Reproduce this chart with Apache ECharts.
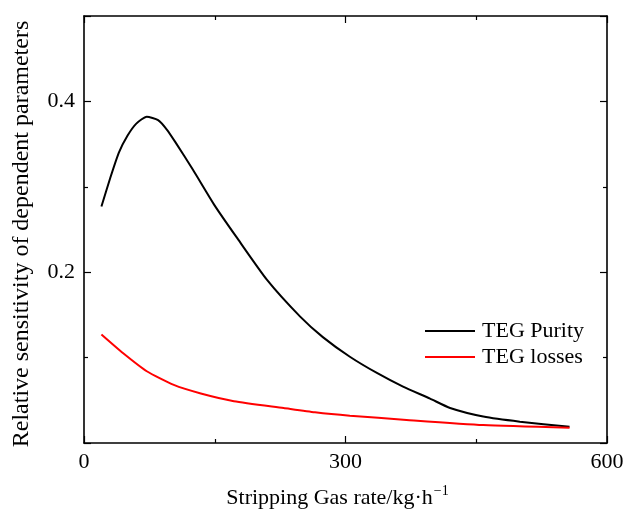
<!DOCTYPE html>
<html>
<head>
<meta charset="utf-8">
<script src="https://cdn.jsdelivr.net/npm/echarts@6/dist/echarts.min.js"></script>
<style>
  html, body { margin: 0; padding: 0; background: #fff; }
  #chart { width: 625px; height: 511px; }
</style>
</head>
<body>
<div id="chart"></div>
<script>
// values
const purityX = [20, 30, 40, 50, 60, 72, 85, 95, 105, 125, 150, 175, 210, 248, 274, 305, 336, 366, 397, 420, 458, 500, 557]
const purityY = [0.277, 0.310, 0.340, 0.360, 0.374, 0.382, 0.378, 0.367, 0.352, 0.320, 0.278, 0.241, 0.191, 0.148, 0.124, 0.101, 0.082, 0.066, 0.052, 0.041, 0.031, 0.025, 0.019]
const lossesX = [20, 45, 72, 103, 134, 172, 229, 265, 305, 370, 458, 557]
const lossesY = [0.127, 0.105, 0.084, 0.068, 0.058, 0.049, 0.041, 0.036, 0.032, 0.027, 0.021, 0.018]

const font = 'Liberation Serif'

function pairs(xs, ys) {
  return xs.map((x, i) => [x, ys[i]])
}

const chart = echarts.init(document.getElementById('chart'))

const axisCommon = {
  axisLine: { show: true, onZero: false, lineStyle: { color: '#000', width: 1.6 } },
  axisTick: { show: true, inside: true, length: 7, lineStyle: { color: '#000', width: 1.2 } },
  minorTick: { show: true, splitNumber: 2, length: 4, lineStyle: { color: '#000', width: 1.2 } },
  splitLine: { show: false }
}

chart.setOption({
  animation: false,
  grid: { left: 84, right: 18, top: 16, bottom: 68, outerBoundsMode: 'none' },
  legend: {
    orient: 'vertical',
    left: 420,
    top: 315,
    icon: 'rect',
    itemWidth: 50,
    itemHeight: 2,
    itemGap: 4,
    textStyle: { fontFamily: font, fontSize: 22, color: '#000', padding: [0, 0, 0, 2] },
    data: ['TEG Purity', 'TEG losses']
  },
  xAxis: [
    Object.assign({}, axisCommon, {
      type: 'value',
      min: 0,
      max: 600,
      interval: 300,
      name: '{a|Stripping Gas rate/kg·h}{b|−1}',
      nameLocation: 'middle',
      nameGap: 41,
      nameTextStyle: {
        padding: [0, 16, 0, 0],
        rich: {
          a: { fontFamily: font, fontSize: 22, color: '#000' },
          b: { fontFamily: font, fontSize: 14, color: '#000', padding: [0, 0, 14, 1] }
        }
      },
      axisLabel: { fontFamily: font, fontSize: 22, color: '#000', margin: 8 }
    }),
    Object.assign({}, axisCommon, {
      type: 'value',
      position: 'top',
      min: 0,
      max: 600,
      interval: 300,
      axisLabel: { show: false }
    })
  ],
  yAxis: [
    Object.assign({}, axisCommon, {
      type: 'value',
      min: 0,
      max: 0.5,
      interval: 0.2,
      name: 'Relative sensitivity of dependent parameters',
      nameLocation: 'middle',
      nameGap: 50,
      nameTextStyle: { fontFamily: font, fontSize: 24, color: '#000', padding: [0, 9, 0, 0] },
      axisLabel: {
        fontFamily: font, fontSize: 22, color: '#000', margin: 9,
        formatter: v => (v === 0 || v === 0.5 ? '' : v.toFixed(1))
      }
    }),
    Object.assign({}, axisCommon, {
      type: 'value',
      position: 'right',
      min: 0,
      max: 0.5,
      interval: 0.2,
      axisLabel: { show: false }
    })
  ],
  series: [
    {
      name: 'TEG Purity',
      type: 'line',
      smooth: 0.2,
      symbol: 'none',
      lineStyle: { color: '#000', width: 2 },
      itemStyle: { color: '#000' },
      data: pairs(purityX, purityY)
    },
    {
      name: 'TEG losses',
      type: 'line',
      smooth: 0.2,
      symbol: 'none',
      lineStyle: { color: '#ff0000', width: 2 },
      itemStyle: { color: '#ff0000' },
      data: pairs(lossesX, lossesY)
    }
  ]
})
</script>
</body>
</html>
